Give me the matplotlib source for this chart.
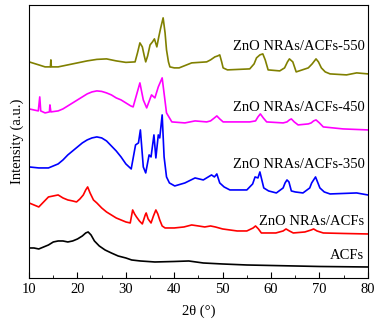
import matplotlib
matplotlib.use("Agg")
from matplotlib import pyplot as plt
from matplotlib.ticker import MultipleLocator

plt.rcParams['font.family'] = ['Liberation Serif', 'DejaVu Serif']

# 2theta / intensity (a.u.), curves already offset
acf_x = [10, 11, 12, 13, 14, 15, 16, 17, 18, 19, 20, 21, 21.7, 22.2, 22.8, 23.5, 24.5,
         25.7, 27, 28.4, 30, 31.2, 33, 36, 40, 43, 46, 50, 55, 60, 70, 80]
acf_y = [30, 30, 29, 31, 33, 36, 37, 37, 36, 37, 39, 42, 45, 46, 43, 37, 32, 28, 25,
         22, 20, 18, 17, 16, 16.5, 17, 15, 14, 13, 12.5, 11.5, 11]

zno_x = [10, 11, 12, 13, 14, 15, 16, 17, 18, 19, 19.8, 20.5, 21.2, 21.7, 22.1, 22.6,
         23.3, 24, 25, 26, 27, 28, 29, 30, 30.9, 31.4, 31.8, 32.2, 32.8, 33.4, 34, 34.2,
         34.6, 35.2, 35.7, 36.2, 36.6, 37, 37.5, 38.1, 40, 42, 43.6, 45, 46.3, 47.5,
         48.5, 50, 53, 55, 56.3, 56.8, 57.4, 58, 61, 62.5, 63.1, 63.8, 64.6, 67, 68.3,
         68.8, 69.5, 70.8, 75, 80]
zno_y = [75, 73, 71, 76, 81, 82, 83, 80, 78, 77, 76, 79, 83, 88, 91, 85, 78, 75, 70,
         66, 63, 60, 58, 56, 55, 68, 64, 61, 57, 54, 63, 65, 59, 55, 62, 68, 64, 58,
         52, 50, 50, 51, 53, 52, 51, 52, 51, 49, 47, 47, 50, 52, 49, 45, 45, 47, 49,
         47, 45, 46, 48, 49, 47, 45, 44.5, 44]

z350_x = [10, 12, 14, 15, 16, 17, 18, 19, 20, 21, 22, 23, 24, 25, 26, 27, 28, 29, 30,
          31.1, 32, 32.6, 33, 33.6, 34.1, 34.8, 35.2, 35.8, 36.2, 36.7, 37, 37.5, 37.9,
          38.4, 39, 40.1, 42.2, 44.3, 46, 47.7, 48.3, 48.8, 49.4, 50.3, 51.5, 55, 56.2,
          56.7, 57.3, 57.7, 58.5, 59.5, 61.1, 62.5, 62.9, 63.3, 63.7, 64.2, 65, 66.6,
          68, 68.4, 69.2, 70.1, 71, 72.2, 77.7, 80]
z350_y = [111, 110, 110, 112, 114, 118, 123, 127, 131, 135, 138, 140, 141, 140, 137,
          132, 127, 121, 114, 109, 133, 135, 148, 111, 105, 123, 121, 143, 120, 143,
          140, 163, 121, 101, 95, 92, 95, 100, 98, 103, 101, 104, 95, 91, 88, 88, 94,
          101, 100, 106, 90, 87, 85, 90, 95, 98, 96, 87, 86, 85, 90, 95, 101, 90, 86,
          84, 85, 83]

z450_x = [10, 11.9, 12.2, 12.4, 13.3, 14.2, 14.3, 14.5, 16, 17, 18, 19, 20, 21, 22, 23,
          24, 25, 26, 27, 28, 29, 30, 31, 31.5, 32.2, 32.9, 33.6, 34.3, 35.3, 36, 36.7,
          37.5, 38.4, 39.5, 42.2, 44.3, 46.7, 47.5, 48.3, 48.8, 49.4, 50.1, 55.6, 56.8,
          57.3, 57.8, 58.4, 59.1, 62.5, 63.3, 63.8, 64.2, 64.8, 65.6, 67.7, 68.3, 68.8,
          69.3, 70, 70.8, 74.9, 80]
z450_y = [169, 167, 181, 167, 165, 166, 173, 166, 167, 169, 172, 175, 178, 181, 184,
          186, 187, 186.5, 185, 183, 180, 178, 175, 172, 171, 183, 195, 178, 170, 183,
          180, 191, 200, 165, 156, 155, 157, 156, 157, 160, 162, 159, 156, 156, 157,
          161, 164, 160, 156, 155, 156, 158, 159, 156, 153, 154, 155, 157, 158, 155,
          151, 149, 148]

z550_x = [10, 12, 13.3, 14.4, 14.5, 14.6, 16, 18, 20, 22, 24, 26, 28, 30, 31.9, 32.4,
          32.9, 33.4, 33.8, 34.1, 34.5, 35, 35.5, 35.9, 36.4, 36.8, 37.2, 37.7, 38.1,
          38.4, 38.8, 39.1, 40, 41, 43.6, 46.7, 47.5, 48.4, 49, 49.4, 49.8, 50.1, 51,
          55.6, 56.5, 57, 57.7, 58.3, 58.8, 59.4, 61.8, 62.8, 63.4, 63.8, 64.5, 65.2,
          67.7, 68.5, 69.3, 69.8, 70.4, 71.2, 72.2, 75.6, 77.7, 80]
z550_y = [216, 213, 211, 211, 218, 211, 211, 213, 215, 217, 218.5, 219, 217, 215.5,
          216, 225, 235, 231, 222, 216, 222, 233, 236, 239, 231, 241, 250, 260, 245,
          228, 216, 211, 210, 210, 215, 216, 218, 221, 222, 223, 216, 210, 208, 209,
          214, 220, 223, 224, 218, 208, 207, 210, 216, 219, 216, 206, 210, 214, 219,
          216, 210, 206, 204, 203, 205, 204]

curves = [(acf_x, acf_y, 'black'), (zno_x, zno_y, 'red'), (z350_x, z350_y, 'blue'),
          (z450_x, z450_y, '#ff00ff'), (z550_x, z550_y, '#808000')]
labels = ['ACFs', 'ZnO NRAs/ACFs', 'ZnO NRAs/ACFs-350', 'ZnO NRAs/ACFs-450',
          'ZnO NRAs/ACFs-550']
label_y = [22, 56, 113, 170, 231]

fig = plt.figure(figsize=(3.78, 3.24), dpi=100)
ax = fig.add_axes([0.077, 0.142, 0.896, 0.843])

for (x, y, c) in curves:
    ax.plot(x, y, color=c, lw=1.2)

for lab, ly in zip(labels, label_y):
    ax.text(79.3, ly, lab, ha='right', va='center', fontsize=10.5)

ax.set_xlim(10, 80)
ax.set_ylim(0, 273)
ax.xaxis.set_major_locator(MultipleLocator(10))
ax.xaxis.set_minor_locator(MultipleLocator(5))
ax.tick_params(axis='x', which='both', direction='in', labelsize=10.5)
ax.tick_params(axis='x', which='major', length=4)
ax.tick_params(axis='x', which='minor', length=2.5)
ax.set_yticks([])
ax.set_xlabel('2θ (°)', fontsize=10.5, labelpad=6)
ax.set_ylabel('Intensity (a.u.)', fontsize=10.5, labelpad=4)

fig.savefig('out.png', dpi=100)
